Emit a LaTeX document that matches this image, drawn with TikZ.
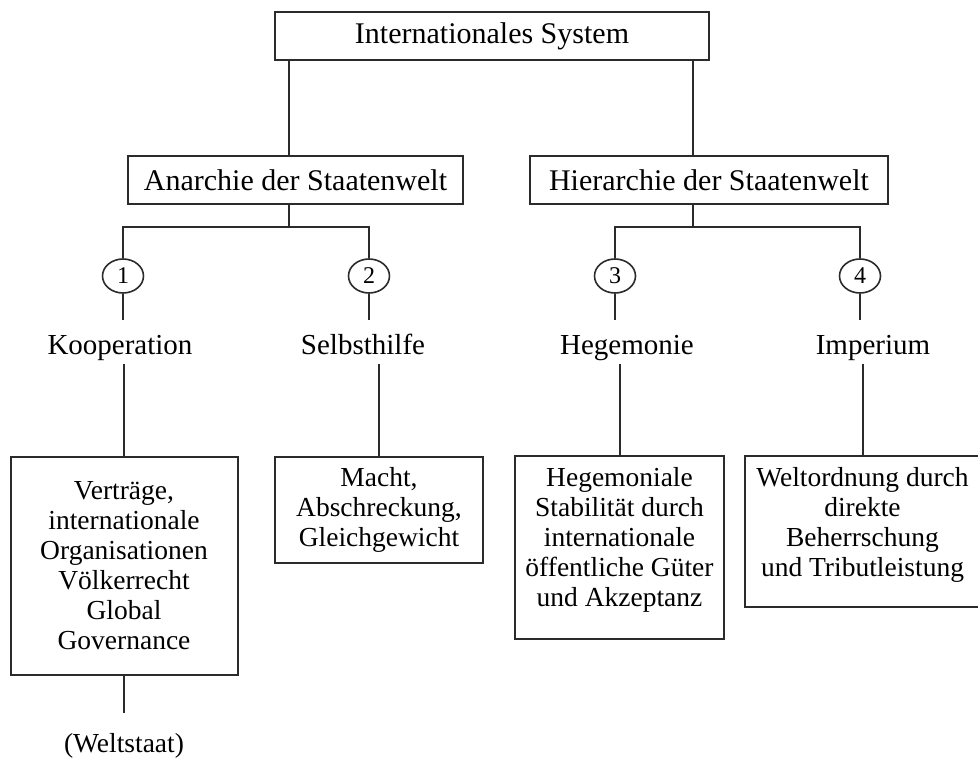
\documentclass[tikz,border=0pt]{standalone}
\usepackage{fontspec}
\setmainfont{Liberation Serif}
\usetikzlibrary{shapes.geometric}
\definecolor{linegray}{HTML}{2B2B2B}
\begin{document}
\begin{tikzpicture}[x=1pt, y=-1pt,
    link/.style={draw=linegray, line width=2pt},
    headbox/.style={rectangle, draw=linegray, line width=2pt, fill=white, minimum height=48, inner sep=0pt, font=\fontsize{30}{34}\selectfont},
    numcirc/.style={ellipse, draw=linegray, line width=1.6pt, fill=white, minimum width=41, minimum height=34, inner sep=0pt, font=\fontsize{24}{26}\selectfont},
    typelabel/.style={minimum height=44, inner sep=0pt, text height=31pt, text depth=7pt, font=\fontsize{29}{32}\selectfont},
    textbox/.style={rectangle, draw=linegray, line width=2pt, fill=white, align=center, inner sep=0pt, font=\fontsize{27.5}{30}\selectfont}]
    \useasboundingbox (0,0) rectangle (978,758);

    \node[headbox, minimum width=434] (sys) at (492, 36) {Internationales System\hspace{20pt}};
    \node[headbox, minimum width=335] (ana) at (295.5, 180) {Anarchie der Staatenwelt};
    \node[headbox, minimum width=358] (hie) at (709, 180) {Hierarchie der Staatenwelt};

    \node[numcirc] (c1) at (123, 276) {1};
    \node[numcirc] (c2) at (369, 276) {2};
    \node[numcirc] (c3) at (615, 276) {3};
    \node[numcirc] (c4) at (860, 276) {4};

    \node[typelabel] (koop) at (120, 342) {Kooperation};
    \node[typelabel] (selbst) at (363, 342) {Selbsthilfe};
    \node[typelabel] (hege) at (627, 342) {Hegemonie};
    \node[typelabel] (imp) at (873, 342) {Imperium};

    \node[textbox, minimum width=227, minimum height=218] (v1) at (124, 566) {Verträge,\\ internationale\\ Organisationen\\ Völkerrecht\\ Global\\ Governance};
    \node[textbox, minimum width=208, minimum height=106] (v2) at (379, 510) {Macht,\\ Abschreckung,\\ Gleichgewicht};
    \node[textbox, minimum width=209, minimum height=183] (v3) at (619.5, 547.5) {Hegemoniale\\ Stabilität durch\\ internationale\\ öffentliche Güter\\ und Akzeptanz\\[-9pt]\mbox{}};
    \node[textbox, minimum width=235, minimum height=151] (v4) at (862.5, 531.5) {Weltordnung durch\\ direkte\\ Beherrschung\\ und Tributleistung\\[-11pt]\mbox{}};
    \node[typelabel, minimum height=54, font=\fontsize{27.5}{30}\selectfont] (welt) at (124, 740) {(Weltstaat)};

    \draw[link] ([xshift=-6.5]ana.north) -- ([xshift=-6.5]ana.north |- sys.south);
    \draw[link] ([xshift=-16]hie.north) -- ([xshift=-16]hie.north |- sys.south);

    \draw[link] (c1.north) -- ++(0,-31) coordinate (bus1) -| (c2.north);
    \draw[link] (c3.north) -- ++(0,-31) coordinate (bus2) -| (c4.north);
    \draw[link] ([xshift=-6.5]ana.south) -- ([xshift=-6.5]ana.south |- bus1);
    \draw[link] ([xshift=-16]hie.south) -- ([xshift=-16]hie.south |- bus2);

    \draw[link] (c1.south) -- (c1.south |- koop.north);
    \draw[link] (c2.south) -- (c2.south |- selbst.north);
    \draw[link] (c3.south) -- (c3.south |- hege.north);
    \draw[link] (c4.south) -- (c4.south |- imp.north);

    \draw[link] (v1.north) -- (v1.north |- koop.south);
    \draw[link] (v2.north) -- (v2.north |- selbst.south);
    \draw[link] (v3.north) -- (v3.north |- hege.south);
    \draw[link] (v4.north) -- (v4.north |- imp.south);

    \draw[link] (v1.south) -- (v1.south |- welt.north);
\end{tikzpicture}
\end{document}
